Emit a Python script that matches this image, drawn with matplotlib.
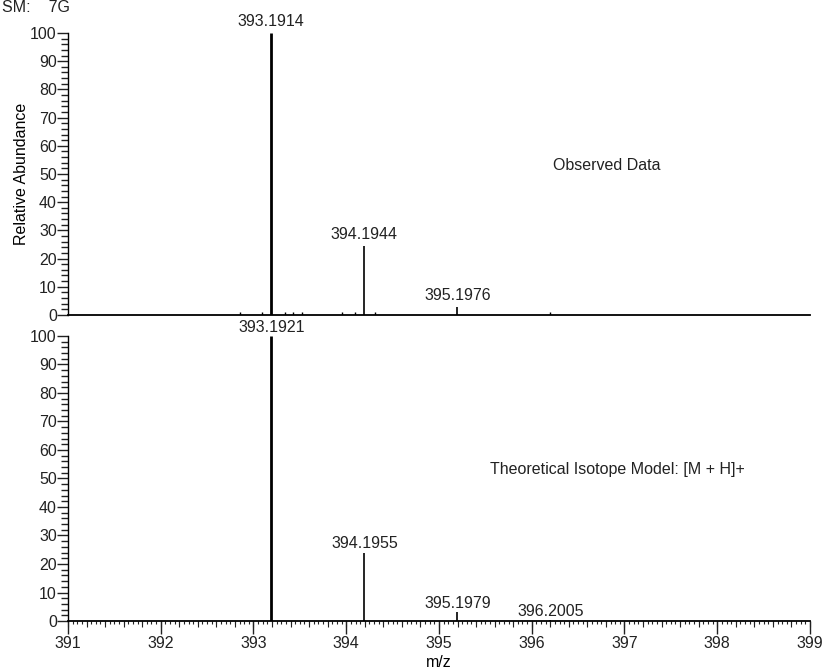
import numpy as np
import matplotlib
matplotlib.use("Agg")
import matplotlib.pyplot as plt
from matplotlib.ticker import MultipleLocator, NullFormatter

plt.rcParams['font.family'] = ['Liberation Sans', 'DejaVu Sans']
plt.rcParams['font.size'] = 11.5
plt.rcParams['text.color'] = '#222222'
plt.rcParams['xtick.color'] = '#222222'
plt.rcParams['ytick.color'] = '#222222'

# Observed spectrum: labelled peaks
obs_mz = [393.1914, 394.1944, 395.1976]
obs_int = [100.0, 24.5, 2.8]
# Observed: small noise peaks
noise_mz = [392.86, 393.09, 393.34, 393.43, 393.52, 393.95, 394.09, 394.31, 396.20]
noise_int = [1.0, 1.2, 1.0, 0.9, 1.0, 0.9, 1.1, 0.9, 1.0]

# Theoretical isotope model [M + H]+
theo_mz = [393.1921, 394.1955, 395.1979, 396.2005]
theo_int = [100.0, 24.0, 3.2, 0.3]

fig = plt.figure(figsize=(8.25, 6.71), dpi=100)
ax1 = fig.add_axes([0.0824, 0.5306, 0.8994, 0.4202])
ax2 = fig.add_axes([0.0824, 0.0745, 0.8994, 0.4248])


def style(ax, show_x):
    ax.set_xlim(391, 399)
    ax.set_ylim(0, 100)
    for s in ['top', 'right']:
        ax.spines[s].set_visible(False)
    ax.spines['left'].set_linewidth(1.0)
    ax.spines['bottom'].set_linewidth(1.3)
    ax.yaxis.set_major_locator(MultipleLocator(10))
    ax.yaxis.set_minor_locator(MultipleLocator(2))
    ax.tick_params(axis='y', which='major', length=8, width=1.0, pad=0)
    ax.tick_params(axis='y', which='minor', length=5, width=1.0)
    if show_x:
        ax.xaxis.set_major_locator(MultipleLocator(1))
        ax.xaxis.set_minor_locator(MultipleLocator(0.05))
        ax.tick_params(axis='x', which='major', length=9, width=1.0, pad=2)
        ax.tick_params(axis='x', which='minor', length=2.5, width=0.8)
        sec = ax.secondary_xaxis('bottom')
        sec.spines['bottom'].set_visible(False)
        sec.xaxis.set_major_locator(MultipleLocator(0.2))
        sec.xaxis.set_major_formatter(NullFormatter())
        sec.tick_params(axis='x', which='major', length=4.5, width=0.8)
        sec.xaxis.set_minor_locator(MultipleLocator(10))
    else:
        ax.tick_params(axis='x', which='both', bottom=False, labelbottom=False)


style(ax1, False)
style(ax2, True)

# Observed data
ax1.vlines(noise_mz, 0, noise_int, color='black', linewidth=1.0)
ax1.vlines(obs_mz[0], 0, obs_int[0], color='black', linewidth=2.0)
ax1.vlines(obs_mz[1:], 0, obs_int[1:], color='black', linewidth=1.2)
for mz, it in zip(obs_mz, obs_int):
    ax1.annotate(f"{mz:.4f}", (mz, it), xytext=(0, 3), textcoords='offset points',
                 ha='center', va='bottom', annotation_clip=False)
ax1.text(396.23, 53, "Observed Data", va='center', ha='left')
ax1.set_ylabel("Relative Abundance", labelpad=1)

# Theoretical
ax2.vlines(theo_mz[0], 0, theo_int[0], color='black', linewidth=2.0)
ax2.vlines(theo_mz[1:], 0, theo_int[1:], color='black', linewidth=1.2)
for mz, it in zip(theo_mz, theo_int):
    ax2.annotate(f"{mz:.4f}", (mz, it), xytext=(0, 1), textcoords='offset points',
                 ha='center', va='bottom', annotation_clip=False)
ax2.text(395.55, 53, "Theoretical Isotope Model: [M + H]+", va='center', ha='left')
ax2.set_xlabel("m/z", labelpad=3)

fig.text(0.002, 1 - 12 / 671, "SM:    7G", ha='left', va='baseline')

fig.savefig("out.png", dpi=100)
